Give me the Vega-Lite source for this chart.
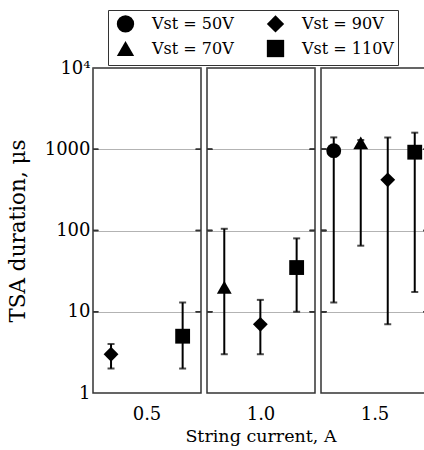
{
  "$schema": "https://vega.github.io/schema/vega-lite/v6.json",
  "padding": {"left": 7, "top": 9, "right": 0, "bottom": 0},
  "background": "white",
  "bounds": "flush",
  "config": {
    "font": "DejaVu Serif",
    "view": {"stroke": "#333", "strokeWidth": 1.5},
    "axis": {"labelFont": "DejaVu Serif", "titleFont": "DejaVu Serif", "labelColor": "black", "titleColor": "black"},
    "legend": {"labelFont": "DejaVu Serif"},
    "header": {"labelFont": "DejaVu Serif", "titleFont": "DejaVu Serif"}
  },
  "data": {
    "values": [
      {"current": "0.5", "vst": "Vst = 90V", "x": 0.167, "y": 3, "lo": 2, "hi": 4},
      {"current": "0.5", "vst": "Vst = 110V", "x": 0.83, "y": 5, "lo": 2, "hi": 13},
      {"current": "1.0", "vst": "Vst = 70V", "x": 0.16, "y": 20, "lo": 3, "hi": 105},
      {"current": "1.0", "vst": "Vst = 90V", "x": 0.494, "y": 7, "lo": 3, "hi": 14},
      {"current": "1.0", "vst": "Vst = 110V", "x": 0.83, "y": 35, "lo": 10, "hi": 80},
      {"current": "1.5", "vst": "Vst = 50V", "x": 0.118, "y": 960, "lo": 13, "hi": 1400},
      {"current": "1.5", "vst": "Vst = 70V", "x": 0.368, "y": 1200, "lo": 65, "hi": 1300},
      {"current": "1.5", "vst": "Vst = 90V", "x": 0.618, "y": 420, "lo": 7, "hi": 1400},
      {"current": "1.5", "vst": "Vst = 110V", "x": 0.868, "y": 920, "lo": 17.5, "hi": 1600}
    ]
  },
  "spacing": 6,
  "facet": {
    "column": {
      "field": "current",
      "type": "ordinal",
      "header": {
        "labelOrient": "bottom",
        "labelFontSize": 18,
        "labelColor": "black",
        "labelPadding": 13,
        "title": "String current, A",
        "titleOrient": "bottom",
        "titleFontSize": 17.5,
        "titleFontWeight": "normal",
        "titleColor": "black",
        "titlePadding": -6
      }
    }
  },
  "spec": {
    "width": 108,
    "height": 325,
    "encoding": {
      "x": {"field": "x", "type": "quantitative", "scale": {"domain": [0, 1]}, "axis": null},
      "y": {
        "field": "y",
        "type": "quantitative",
        "scale": {"type": "log", "domain": [1, 10000], "nice": false},
        "axis": {
          "title": "TSA duration, μs",
          "titleFontSize": 21.5,
          "titleFontWeight": "normal",
          "titlePadding": 15,
          "values": [1, 10, 100, 1000, 10000],
          "labelExpr": "datum.value >= 10000 ? '10⁴' : format(datum.value, 'd')",
          "labelFontSize": 18,
          "labelPadding": 3,
          "domain": false,
          "ticks": false,
          "grid": true,
          "gridDash": [1, 1],
          "gridColor": "#666",
          "gridWidth": 1
        }
      }
    },
    "layer": [
      {"mark": {"type": "rule", "color": "#333", "strokeWidth": 1.5}, "encoding": {"x": {"datum": 0}, "x2": {"datum": 0.05}, "y": {"datum": 10}}},
      {"mark": {"type": "rule", "color": "#333", "strokeWidth": 1.5}, "encoding": {"x": {"datum": 0}, "x2": {"datum": 0.05}, "y": {"datum": 100}}},
      {"mark": {"type": "rule", "color": "#333", "strokeWidth": 1.5}, "encoding": {"x": {"datum": 0}, "x2": {"datum": 0.05}, "y": {"datum": 1000}}},
      {"mark": {"type": "rule", "color": "#333", "strokeWidth": 1.5}, "encoding": {"x": {"datum": 0.95}, "x2": {"datum": 1}, "y": {"datum": 10}}},
      {"mark": {"type": "rule", "color": "#333", "strokeWidth": 1.5}, "encoding": {"x": {"datum": 0.95}, "x2": {"datum": 1}, "y": {"datum": 100}}},
      {"mark": {"type": "rule", "color": "#333", "strokeWidth": 1.5}, "encoding": {"x": {"datum": 0.95}, "x2": {"datum": 1}, "y": {"datum": 1000}}},
      {
        "mark": {"type": "rule", "color": "black", "strokeWidth": 2},
        "encoding": {"y": {"field": "lo", "type": "quantitative"}, "y2": {"field": "hi"}}
      },
      {
        "mark": {"type": "tick", "orient": "horizontal", "color": "black", "size": 7, "thickness": 2},
        "encoding": {"y": {"field": "lo", "type": "quantitative"}}
      },
      {
        "mark": {"type": "tick", "orient": "horizontal", "color": "black", "size": 7, "thickness": 2},
        "encoding": {"y": {"field": "hi", "type": "quantitative"}}
      },
      {
        "mark": {"type": "point", "filled": true, "color": "black", "opacity": 1, "size": 220},
        "encoding": {
          "shape": {
            "field": "vst",
            "type": "nominal",
            "scale": {
              "domain": ["Vst = 50V", "Vst = 90V", "Vst = 70V", "Vst = 110V"],
              "range": ["circle", "diamond", "triangle-up", "square"]
            },
            "legend": {
              "title": null,
              "orient": "none",
              "legendX": 15,
              "legendY": -58,
              "columns": 2,
              "direction": "horizontal",
              "strokeColor": "#333",
              "padding": 4,
              "rowPadding": 0,
              "columnPadding": 28,
              "labelOffset": 17,
              "symbolOffset": 4,
              "labelFontSize": 16,
              "labelColor": "black",
              "symbolSize": 300,
              "symbolFillColor": "black",
              "symbolStrokeColor": "black",
              "symbolOpacity": 1,
              "encode": {
                "symbols": {"update": {"size": {"signal": "datum.value == 'Vst = 110V' ? 81 : datum.value == 'Vst = 70V' ? 360 : datum.value == 'Vst = 90V' ? 320 : 256"}}}
              }
            }
          }
        }
      }
    ]
  }
}
